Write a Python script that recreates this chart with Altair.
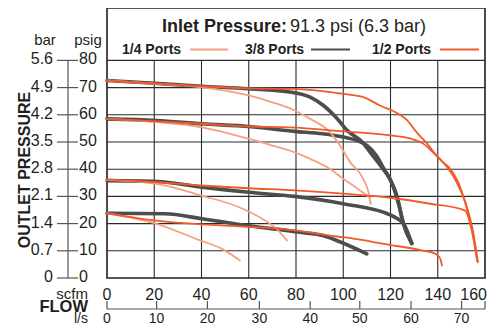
import altair as alt
import pandas as pd

FONT = "Liberation Sans"
TEXT = "#231f20"

ports = ["1/4 Ports", "3/8 Ports", "1/2 Ports"]
port_colors = ["#f6a083", "#4d4d4d", "#f15a29"]
port_widths = [1.8, 3.6, 1.8]

# ---- curves (x = flow scfm, y = outlet pressure psig) ----
# set point ~72 psig
q_70_x = [0, 21, 40, 60, 70, 79.5, 86, 94.4, 98.6, 102.9, 108.4, 111.3, 111.6]
q_70_y = [72.6, 71.4, 70.1, 67.1, 64.6, 61.6, 58.5, 53.6, 48.7, 42.6, 36.5, 29.1, 27.3]
t_70_x = [0, 20, 40, 60, 78, 86, 91.5, 97, 102, 108, 112, 116, 120, 122.8, 125.3, 129]
t_70_y = [72.6, 71.6, 70.5, 69.6, 68.3, 66.5, 63.5, 59, 54, 50, 45.5, 41, 36, 30, 20.4, 12.7]
h_70_x = [0, 20, 40, 60, 78, 100, 108.5, 115.5, 123, 127, 131, 135.5, 139.5, 144, 148, 152.5, 155, 157]
h_70_y = [72.6, 71.5, 70.5, 69.7, 69.5, 67.7, 66.5, 63.4, 60.5, 58, 53.6, 49.4, 45, 40.7, 35.2, 25.6, 16.8, 5.8]

# set point ~58 psig
q_58_x = [0, 21, 40, 60, 70, 79.5, 86, 94.4, 100, 107, 111.3, 111.6]
q_58_y = [58.5, 57.3, 55.4, 51.2, 48.7, 46.2, 43.8, 40.1, 36.5, 32.2, 29.1, 27.3]
t_58_x = [0, 21, 40, 60, 79.5, 91.3, 100, 106, 110, 114, 117, 121, 123.5, 125.5, 129]
t_58_y = [58.5, 57.9, 56.7, 55.7, 53.9, 53, 51.8, 50.5, 48.7, 45, 40.5, 34, 27, 20, 12.7]
h_58_x = [0, 40, 60, 77.5, 100, 120, 128.3, 133.8, 138, 142.2, 145.2, 148.5, 152, 154.7, 156.7]
h_58_y = [58.5, 56.7, 55.7, 55.4, 53.9, 52.4, 51.3, 49.4, 46.2, 42.6, 40.2, 35.5, 26.5, 17, 6.5]

# set point ~36 psig
q_36_x = [0, 21, 40, 56, 65.6, 72.4, 76.2]
q_36_y = [36, 34.6, 30.3, 26, 21.8, 17.5, 13.8]
t_36_x = [0, 21, 40, 60, 79.5, 100, 119.8, 123, 125.5, 129]
t_36_y = [35.8, 35.5, 33.4, 31.5, 30, 27.3, 23.2, 21.8, 20, 12.7]
h_36_x = [0, 21, 40, 60, 79.5, 100, 119.8, 136.8, 151.6, 154.5, 156.8]
h_36_y = [36.2, 35.2, 34, 33, 32.2, 31, 29.5, 27.3, 24.8, 17, 6]

# set point ~24 psig
q_24_x = [0, 21, 39.4, 48.7, 56.3]
q_24_y = [23.8, 19.9, 13.8, 10.7, 6.4]
t_24_x = [0, 24.5, 40, 56, 81.7, 91.4, 97.2, 110]
t_24_y = [23.8, 23.6, 21.8, 19.7, 16.8, 15.6, 13.8, 8.9]
h_24_x = [0, 21, 40, 58, 79.5, 95, 100, 119, 133.8, 137.5, 140, 141.2, 141.8]
h_24_y = [23.8, 21.1, 19.7, 18.9, 17.5, 15.5, 15, 12.3, 10.1, 9.4, 8.3, 6.8, 4.6]

curves = [
    ("3/8 Ports", "70", t_70_x, t_70_y), ("3/8 Ports", "58", t_58_x, t_58_y),
    ("3/8 Ports", "36", t_36_x, t_36_y), ("3/8 Ports", "24", t_24_x, t_24_y),
    ("1/4 Ports", "70", q_70_x, q_70_y), ("1/4 Ports", "58", q_58_x, q_58_y),
    ("1/4 Ports", "36", q_36_x, q_36_y), ("1/4 Ports", "24", q_24_x, q_24_y),
    ("1/2 Ports", "70", h_70_x, h_70_y), ("1/2 Ports", "58", h_58_x, h_58_y),
    ("1/2 Ports", "36", h_36_x, h_36_y), ("1/2 Ports", "24", h_24_x, h_24_y),
]

# ---- axes ----
scfm_ticks = [0, 20, 40, 60, 80, 100, 120, 140, 160]
psig_ticks = [0, 10, 20, 30, 40, 50, 60, 70, 80]
bar_labels = ["0", "0.7", "1.4", "2.1", "2.8", "3.5", "4.2", "4.9", "5.6"]
ls_labels = ["0", "10", "20", "30", "40", "50", "60", "70"]
ls_at_scfm = [0, 21, 42.5, 64.5, 86, 107, 128.7, 150.1]

xs = alt.Scale(domain=[0, 160], nice=False, zero=False)
ys = alt.Scale(domain=[0, 99.26], nice=False, zero=False)

rows = []
for port, grp, cx, cy in curves:
    for i, (a, b) in enumerate(zip(cx, cy)):
        rows.append({"port": port, "curve": port + grp, "x": a, "y": b, "o": i})
df = pd.DataFrame(rows)

layers = []

# grid
gv = pd.DataFrame({"x": scfm_ticks[1:-1], "y0": 0, "y1": 80})
gh = pd.DataFrame({"y": psig_ticks[1:], "x0": 0, "x1": 160})
layers.append(alt.Chart(gv).mark_rule(color="#2a2a2a", strokeWidth=1.1).encode(
    x=alt.X("x:Q", scale=xs, axis=None), y=alt.Y("y0:Q", scale=ys, axis=None), y2="y1"))
layers.append(alt.Chart(gh).mark_rule(color="#2a2a2a", strokeWidth=1.1).encode(
    y=alt.Y("y:Q", scale=ys, axis=None), x=alt.X("x0:Q", scale=xs, axis=None), x2="x1"))

# curves
for port, col, w in zip(["3/8 Ports", "1/4 Ports", "1/2 Ports"],
                        [port_colors[1], port_colors[0], port_colors[2]],
                        [port_widths[1], port_widths[0], port_widths[2]]):
    layers.append(alt.Chart(df[df.port == port]).mark_line(
        color=col, strokeWidth=w, interpolate="monotone", strokeCap="round", strokeJoin="round").encode(
        x=alt.X("x:Q", scale=xs, axis=None), y=alt.Y("y:Q", scale=ys, axis=None),
        detail="curve:N", order="o:Q"))


def label(text, x, y, size=16, weight="normal", align="left", baseline="alphabetic", angle=0):
    return alt.Chart(pd.DataFrame({"t": [text]})).mark_text(
        align=align, baseline=baseline, fontSize=size, fontWeight=weight, font=FONT,
        color=TEXT, angle=angle).encode(x=alt.value(x), y=alt.value(y), text="t:N")


# title & legend
layers.append(label("Inlet Pressure:", 180, 23.7, size=18, weight="bold", align="right"))
layers.append(label("91.3 psi (6.3 bar)", 183, 23.7, size=18))
leg_text_x = [15, 138, 265]
leg_line_x = [(83, 121), (204, 243), (333, 372)]
for name, col, tx, (l0, l1) in zip(ports, port_colors, leg_text_x, leg_line_x):
    layers.append(label(name, tx, 46.3, size=14, weight="bold"))
    layers.append(alt.Chart(pd.DataFrame({"t": [name]})).mark_rule(
        color=col, strokeWidth=2.2).encode(x=alt.value(l0), x2=alt.value(l1), y=alt.value(41.5)))

# left axis (psig / bar)
pax = pd.DataFrame({"p": psig_ticks, "pl": [str(v) for v in psig_ticks], "bl": bar_labels})
layers.append(alt.Chart(pd.DataFrame({"a": [0], "b": [80]})).mark_rule(color="#555", strokeWidth=1.2).encode(
    x=alt.value(-39), y=alt.Y("a:Q", scale=ys, axis=None), y2="b"))
layers.append(alt.Chart(pax).mark_rule(color="#555", strokeWidth=1.2).encode(
    x=alt.value(-50), x2=alt.value(-29), y=alt.Y("p:Q", scale=ys, axis=None)))
layers.append(alt.Chart(pax).mark_text(align="left", baseline="middle", fontSize=16, font=FONT,
                                       color=TEXT, dy=-1).encode(
    x=alt.value(-28), y=alt.Y("p:Q", scale=ys, axis=None), text="pl:N"))
layers.append(alt.Chart(pax).mark_text(align="right", baseline="middle", fontSize=16, font=FONT,
                                       color=TEXT, dy=-1).encode(
    x=alt.value(-54), y=alt.Y("p:Q", scale=ys, axis=None), text="bl:N"))
layers.append(label("bar", -62, 37, size=15, align="center"))
layers.append(label("psig", -19, 37, size=15, align="center"))
layers.append(label("OUTLET PRESSURE", -82, 162, size=16, weight="bold", align="center",
                    baseline="middle", angle=270))

# bottom axes (scfm / l/s)
sax = pd.DataFrame({"x": scfm_ticks[:-1], "t": [str(v) for v in scfm_ticks[:-1]]})
layers.append(alt.Chart(sax).mark_text(align="center", baseline="alphabetic", fontSize=16, font=FONT,
                                       color=TEXT).encode(
    x=alt.X("x:Q", scale=xs, axis=None), y=alt.value(291.5), text="t:N"))
sax_end = pd.DataFrame({"x": scfm_ticks[-1:], "t": [str(v) for v in scfm_ticks[-1:]]})
layers.append(alt.Chart(sax_end).mark_text(align="right", baseline="alphabetic", fontSize=16, font=FONT,
                                           color=TEXT, dx=2).encode(
    x=alt.X("x:Q", scale=xs, axis=None), y=alt.value(291.5), text="t:N"))
lax = pd.DataFrame({"x": ls_at_scfm, "t": ls_labels})
layers.append(alt.Chart(pd.DataFrame({"a": [0], "b": [160]})).mark_rule(color="#555", strokeWidth=1.2).encode(
    x=alt.X("a:Q", scale=xs, axis=None), x2="b", y=alt.value(301)))
layers.append(alt.Chart(pd.DataFrame({"x": ls_at_scfm + [160]})).mark_rule(color="#555", strokeWidth=1.2).encode(
    x=alt.X("x:Q", scale=xs, axis=None), y=alt.value(293), y2=alt.value(301)))
layers.append(alt.Chart(lax).mark_text(align="center", baseline="alphabetic", fontSize=14, font=FONT,
                                       color=TEXT).encode(
    x=alt.X("x:Q", scale=xs, axis=None), y=alt.value(314.5), text="t:N"))
layers.append(label("scfm", -19, 290.5, size=15, align="right"))
layers.append(label("FLOW", -19, 304, size=16.5, weight="bold", align="right"))
layers.append(label("l/s", -19, 314.5, size=14, align="right"))

chart = alt.layer(*layers).properties(
    width=378, height=270,
    padding={"left": 99, "top": 0, "right": 3, "bottom": 47},
    autosize=alt.AutoSizeParams(type="none"),
    background="white",
).configure_view(stroke="#231f20", strokeWidth=1.6)

chart.save("out.html", embed_options={"renderer": "svg", "actions": False})
